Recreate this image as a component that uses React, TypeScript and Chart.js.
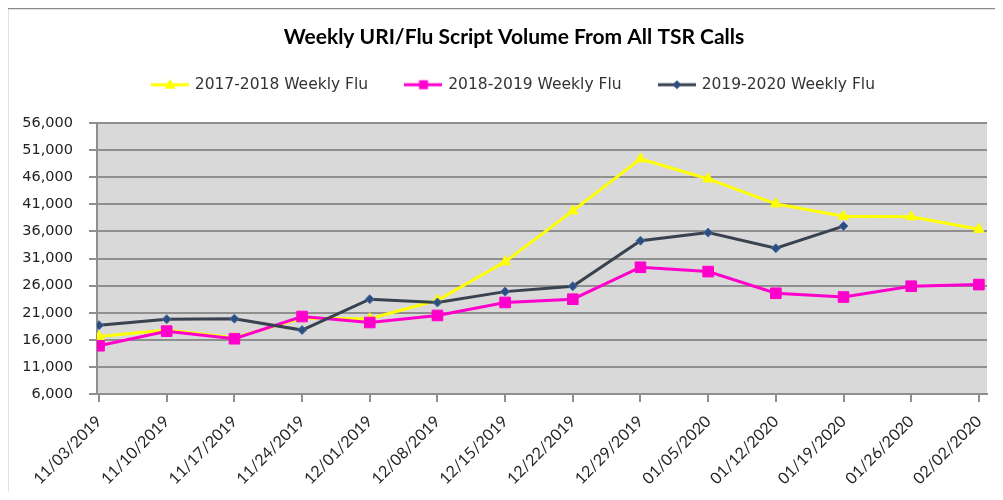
import React, { useEffect, useRef } from 'react';
import { Chart, registerables } from 'chart.js';

Chart.register(...registerables);

const chartTitle = 'Weekly URI/Flu Script Volume From All TSR Calls';
const categories = [
  '11/03/2019', '11/10/2019', '11/17/2019', '11/24/2019', '12/01/2019', '12/08/2019', '12/15/2019',
  '12/22/2019', '12/29/2019', '01/05/2020', '01/12/2020', '01/19/2020', '01/26/2020', '02/02/2020',
];
const seriesNames = ['2017-2018 Weekly Flu', '2018-2019 Weekly Flu', '2019-2020 Weekly Flu'];
const flu1718 = [16600, 17800, 16400, 20000, 19900, 23300, 30400, 39800, 49400, 45700, 41100, 38800, 38700, 36400];
const flu1819 = [14900, 17600, 16200, 20300, 19200, 20500, 22900, 23500, 29400, 28600, 24600, 23900, 25900, 26200];
const flu1920 = [18700, 19800, 19900, 17800, 23500, 22900, 24900, 25900, 34300, 35800, 32900, 37000, null, null];
const yMin = 6000;
const yMax = 56000;
const yStep = 5000;

const YELLOW = '#FFFF00';
const MAGENTA = '#FF00CC';
const NAVY_LINE = '#39424F';
const NAVY_MARK = '#2F4E80';
const GRID = '#8f8f8f';

const CANVAS_W = 1028;
const CANVAS_H = 510;

function toPoints(values: (number | null)[]) {
  return values.map((v, i) => ({ x: i, y: v }));
}

function makeIcon(color: string, marker: 'triangle' | 'square' | 'diamond', markColor: string) {
  const c = document.createElement('canvas');
  c.width = 38;
  c.height = 16;
  const ctx = c.getContext('2d')!;
  ctx.strokeStyle = color;
  ctx.lineWidth = 3;
  ctx.beginPath();
  ctx.moveTo(0, 8);
  ctx.lineTo(38, 8);
  ctx.stroke();
  ctx.fillStyle = markColor;
  ctx.beginPath();
  if (marker === 'triangle') {
    ctx.moveTo(19, 2);
    ctx.lineTo(24.5, 12);
    ctx.lineTo(13.5, 12);
  } else if (marker === 'square') {
    ctx.rect(14.5, 3.5, 9, 9);
  } else {
    ctx.moveTo(19, 3.5);
    ctx.lineTo(23.5, 8);
    ctx.lineTo(19, 12.5);
    ctx.lineTo(14.5, 8);
  }
  ctx.closePath();
  ctx.fill();
  return c;
}

const bgPlugin = {
  id: 'plotBg',
  beforeDraw(chart: any) {
    const { ctx, chartArea: a } = chart;
    ctx.save();
    ctx.fillStyle = '#D9D9D9';
    ctx.fillRect(a.left, a.top, a.right - a.left, a.bottom - a.top);
    ctx.strokeStyle = '#8a8a8a';
    ctx.lineWidth = 1.5;
    ctx.beginPath();
    ctx.moveTo(7.5, 700);
    ctx.lineTo(7.5, 8.5);
    ctx.lineTo(1200, 8.5);
    ctx.stroke();
    ctx.restore();
  },
};

export default function App() {
  const ref = useRef<HTMLCanvasElement | null>(null);

  useEffect(() => {
    if (!ref.current) return;
    const icons = [
      makeIcon(YELLOW, 'triangle', YELLOW),
      makeIcon(MAGENTA, 'square', MAGENTA),
      makeIcon(NAVY_LINE, 'diamond', NAVY_MARK),
    ];
    const chart = new Chart(ref.current, {
      type: 'line',
      data: {
        datasets: [
          {
            label: seriesNames[0],
            data: toPoints(flu1718),
            borderColor: YELLOW,
            backgroundColor: YELLOW,
            borderWidth: 3,
            pointStyle: 'triangle',
            pointRadius: 6,
            pointBorderWidth: 1,
            pointBackgroundColor: YELLOW,
            pointBorderColor: YELLOW,
            tension: 0,
            order: 3,
          },
          {
            label: seriesNames[1],
            data: toPoints(flu1819),
            borderColor: MAGENTA,
            backgroundColor: MAGENTA,
            borderWidth: 3,
            pointStyle: 'rect',
            pointRadius: 7.5,
            pointBorderWidth: 1,
            pointBackgroundColor: MAGENTA,
            pointBorderColor: MAGENTA,
            tension: 0,
            order: 2,
          },
          {
            label: seriesNames[2],
            data: toPoints(flu1920),
            borderColor: NAVY_LINE,
            backgroundColor: NAVY_MARK,
            borderWidth: 3,
            pointStyle: 'rectRot',
            pointRadius: 4.5,
            pointBorderWidth: 1,
            pointBackgroundColor: NAVY_MARK,
            pointBorderColor: '#4a6fa8',
            tension: 0,
            order: 1,
          },
        ],
      },
      options: {
        animation: false,
        responsive: false,
        maintainAspectRatio: false,
        layout: { padding: { left: 0, right: 0, top: 0, bottom: 0 } },
        plugins: {
          title: {
            display: true,
            text: chartTitle,
            color: '#000',
            font: { family: 'Lato', weight: 'bold', size: 21, lineHeight: 0.1 },
            padding: { top: 36.5, bottom: 0 },
          },
          subtitle: {
            display: true,
            text: '',
            weight: 500,
            padding: { top: 0, bottom: 0 },
            font: { size: 10, lineHeight: 2.07 },
          } as any,
          legend: {
            position: 'top',
            labels: {
              usePointStyle: true,
              pointStyleWidth: 34,
              padding: 38.35,
              color: '#333',
              font: { family: 'DejaVu Sans', size: 15.5 },
              generateLabels: () =>
                seriesNames.map((name, i) => ({
                  text: name,
                  pointStyle: icons[i] as any,
                  fillStyle: 'transparent',
                  strokeStyle: 'transparent',
                  lineWidth: 0,
                  hidden: false,
                  datasetIndex: i,
                  fontColor: '#333',
                })),
            },
          },
          tooltip: { enabled: false },
        },
        scales: {
          x: {
            type: 'linear',
            min: -0.03,
            max: 13.12,
            afterBuildTicks: (s: any) => {
              s.ticks = categories.map((_, i) => ({ value: i }));
            },
            afterFit: (s: any) => {
              s.height = CANVAS_H - 394;
              s.paddingLeft = 0;
              s.paddingRight = CANVAS_W - 987;
            },
            ticks: {
              autoSkip: false,
              minRotation: 45,
              maxRotation: 45,
              padding: 10,
              color: '#262626',
              font: { family: 'Lato', size: 16 },
              callback: (v: any) => categories[Number(v)] ?? '',
            },
            grid: { display: true, drawOnChartArea: false, drawTicks: true, tickLength: 8, color: GRID, lineWidth: 2 },
            border: { display: true, color: GRID, width: 2 },
          },
          y: {
            min: yMin,
            max: yMax,
            afterFit: (s: any) => {
              s.width = 97;
            },
            ticks: {
              stepSize: yStep,
              padding: 16,
              color: '#222',
              font: { family: 'DejaVu Sans', size: 14.5 },
              callback: (v: any) => Number(v).toLocaleString('en-US'),
            },
            grid: { color: GRID, lineWidth: 2, tickLength: 8, drawTicks: true },
            border: { display: true, color: GRID, width: 2 },
          },
        },
      },
      plugins: [bgPlugin],
    });
    return () => chart.destroy();
  }, []);

  return (
    <div style={{ margin: -8, width: 1003, height: 500, overflow: 'hidden', position: 'relative', background: '#fff' }}>
      <canvas
        ref={ref}
        width={CANVAS_W}
        height={CANVAS_H}
        style={{ display: 'block', width: CANVAS_W, height: CANVAS_H }}
      />
    </div>
  );
}
